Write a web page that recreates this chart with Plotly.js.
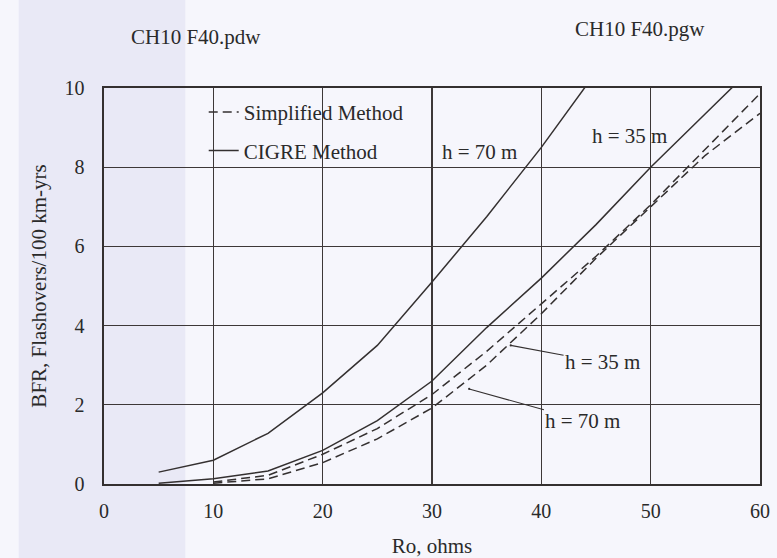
<!DOCTYPE html>
<html>
<head>
<meta charset="utf-8">
<script src="https://cdn.plot.ly/plotly-3.0.1.min.js"></script>
<style>
  html, body { margin: 0; padding: 0; background: #f6f6fc; }
  #chart { width: 777px; height: 558px; }
</style>
</head>
<body>
<div id="chart"></div>
<script>
// Ro (ohms) values and BFR (flashovers / 100 km-yrs)
const roCigre70 = [5, 10, 15, 20, 25, 30, 35, 40, 45];
const bfrCigre70 = [0.3, 0.6, 1.28, 2.3, 3.5, 5.1, 6.75, 8.5, 10.4];

const roCigre35 = [5, 10, 15, 20, 25, 30, 35, 40, 45, 50, 55, 60];
const bfrCigre35 = [0.02, 0.13, 0.33, 0.85, 1.6, 2.6, 3.95, 5.2, 6.55, 8.0, 9.35, 10.7];

const roSimplified = [10, 15, 20, 25, 30, 35, 40, 45, 50, 55, 60];
const bfrSimplified35 = [0.05, 0.22, 0.75, 1.4, 2.26, 3.35, 4.55, 5.75, 7.05, 8.45, 9.86];
const bfrSimplified70 = [0.02, 0.13, 0.54, 1.14, 1.92, 3.0, 4.3, 5.7, 7.0, 8.3, 9.36];

const xTickVals = [0, 10, 20, 30, 40, 50, 60];
const xTickText = ['0', '10', '20', '30', '40', '50', '60'];
const yTickVals = [0, 2, 4, 6, 8, 10];
const yTickText = ['0', '2', '4', '6', '8', '10'];

const legendSimplified = 'Simplified Method';
const legendCigre = 'CIGRE Method';
const labelH70 = 'h = 70 m';
const labelH35 = 'h = 35 m';
const headerLeft = 'CH10 F40.pdw';
const headerRight = 'CH10 F40.pgw';
const xTitle = 'Ro, ohms';
const yTitle = 'BFR, Flashovers/100 km-yrs';

const ink = '#343030';
const textInk = '#2a2a2a';
const serif = 'Liberation Serif, Times New Roman, serif';

const dashLine = { color: ink, width: 1.5, dash: '9px,5px' };
const solidLine = { color: ink, width: 1.5 };

const traces = [
  { x: roSimplified, y: bfrSimplified35, mode: 'lines', line: dashLine,
    name: legendSimplified, legendgroup: 's', showlegend: true },
  { x: roSimplified, y: bfrSimplified70, mode: 'lines', line: dashLine,
    name: legendSimplified, legendgroup: 's', showlegend: false },
  { x: roCigre70, y: bfrCigre70, mode: 'lines', line: solidLine,
    name: legendCigre, legendgroup: 'c', showlegend: true },
  { x: roCigre35, y: bfrCigre35, mode: 'lines', line: solidLine,
    name: legendCigre, legendgroup: 'c', showlegend: false }
];

const axisCommon = {
  showgrid: true, gridcolor: '#3d3838', gridwidth: 1.3,
  showline: true, mirror: true, linecolor: ink, linewidth: 1.6,
  zeroline: false, ticks: '', tickmode: 'array',
  tickfont: { family: serif, size: 20, color: textInk },
  fixedrange: true
};

const layout = {
  width: 777, height: 558,
  margin: { l: 104, r: 17, t: 88, b: 74 },
  paper_bgcolor: '#f6f6fc',
  plot_bgcolor: 'rgba(0,0,0,0)',
  font: { family: serif, color: textInk },
  xaxis: Object.assign({}, axisCommon, {
    range: [0, 60], tickvals: xTickVals, ticktext: xTickText,
    ticklabelstandoff: 8,
    title: { text: xTitle, font: { family: serif, size: 21, color: textInk }, standoff: 19 }
  }),
  yaxis: Object.assign({}, axisCommon, {
    range: [0, 10], tickvals: yTickVals, ticktext: yTickText,
    ticklabelstandoff: 14,
    title: { text: yTitle, font: { family: serif, size: 21, color: textInk }, standoff: 12 }
  }),
  showlegend: true,
  legend: {
    x: 0.152, y: 0.99, xanchor: 'left', yanchor: 'top',
    bgcolor: 'rgba(0,0,0,0)', borderwidth: 0,
    font: { family: serif, size: 21, color: textInk },
    traceorder: 'grouped', tracegroupgap: 8
  },
  shapes: [
    { type: 'rect', xref: 'paper', yref: 'paper', layer: 'below',
      x0: -0.13, x1: 0.124, y0: -0.19, y1: 1.23,
      fillcolor: '#e9e9f6', line: { width: 0 } }
  ],
  annotations: [
    { xref: 'paper', yref: 'paper', x: 0.14, y: 1.128, xanchor: 'center', yanchor: 'middle',
      text: headerLeft, showarrow: false, font: { family: serif, size: 21, color: textInk } },
    { xref: 'paper', yref: 'paper', x: 0.817, y: 1.15, xanchor: 'center', yanchor: 'middle',
      text: headerRight, showarrow: false, font: { family: serif, size: 21, color: textInk } },
    { x: 34.3, y: 8.38, text: labelH70, showarrow: false,
      font: { family: serif, size: 21, color: textInk } },
    { x: 48.1, y: 8.8, text: labelH35, showarrow: false,
      font: { family: serif, size: 21, color: textInk } },
    { x: 37.2, y: 3.5, ax: 45.6, ay: 3.07, axref: 'x', ayref: 'y',
      text: labelH35, showarrow: true, arrowhead: 6, arrowsize: 0.5,
      arrowwidth: 1.1, arrowcolor: ink,
      font: { family: serif, size: 21, color: textInk } },
    { x: 33.4, y: 2.4, ax: 43.8, ay: 1.6, axref: 'x', ayref: 'y',
      text: labelH70, showarrow: true, arrowhead: 6, arrowsize: 0.5,
      arrowwidth: 1.1, arrowcolor: ink,
      font: { family: serif, size: 21, color: textInk } }
  ]
};

Plotly.newPlot('chart', traces, layout, { displayModeBar: false, staticPlot: true });
</script>
</body>
</html>
